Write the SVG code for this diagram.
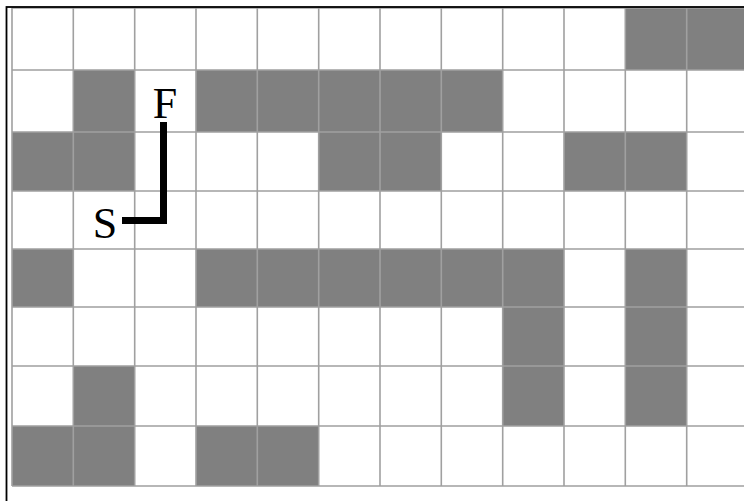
<svg xmlns="http://www.w3.org/2000/svg" width="744" height="501" viewBox="0 0 744 501">
<style>
.c{fill:#808080}
.g{stroke:#a0a0a0;stroke-width:1.6;fill:none}
.lbl{font-family:"Liberation Serif","Times New Roman",serif;font-size:44px;fill:#000;text-anchor:middle}
.path{stroke:#000;stroke-width:7;fill:none;stroke-linejoin:miter;stroke-linecap:butt}
</style>
<rect x="0" y="0" width="744" height="501" fill="#fff"/>
<g id="cells">
<!-- row 0 -->
<rect class="c" x="625.3" y="8" width="61.4" height="62"/>
<rect class="c" x="686.7" y="8" width="61.3" height="62"/>
<!-- row 1 -->
<rect class="c" x="73.3" y="70" width="61.4" height="62"/>
<rect class="c" x="196" y="70" width="306.7" height="62"/>
<!-- row 2 -->
<rect class="c" x="12" y="132" width="122.7" height="59"/>
<rect class="c" x="318.7" y="132" width="122.6" height="59"/>
<rect class="c" x="564" y="132" width="122.7" height="59"/>
<!-- row 4 -->
<rect class="c" x="12" y="249" width="61.3" height="58"/>
<rect class="c" x="196" y="249" width="368" height="58"/>
<rect class="c" x="625.3" y="249" width="61.4" height="58"/>
<!-- row 5 -->
<rect class="c" x="502.7" y="307" width="61.3" height="59"/>
<rect class="c" x="625.3" y="307" width="61.4" height="59"/>
<!-- row 6 -->
<rect class="c" x="73.3" y="366" width="61.4" height="60"/>
<rect class="c" x="502.7" y="366" width="61.3" height="60"/>
<rect class="c" x="625.3" y="366" width="61.4" height="60"/>
<!-- row 7 -->
<rect class="c" x="12" y="426" width="122.7" height="60"/>
<rect class="c" x="196" y="426" width="122.7" height="60"/>
</g>
<g id="gridlines" class="g">
<path d="M12,8 V486 M73.3,8 V486 M134.7,8 V486 M196,8 V486 M257.3,8 V486 M318.7,8 V486 M380,8 V486 M441.3,8 V486 M502.7,8 V486 M564,8 V486 M625.3,8 V486 M686.7,8 V486"/>
<path d="M12,8 H748 M12,70 H748 M12,132 H748 M12,191 H748 M12,249 H748 M12,307 H748 M12,366 H748 M12,426 H748 M12,486 H748"/>
</g>
<rect id="frame" x="6.5" y="7" width="760" height="520" fill="none" stroke="#000" stroke-width="1.8"/>
<g id="connectors">
<path class="path" d="M122,220.5 H163.5 V122"/>
</g>
<g id="node-F"><text class="lbl" x="165" y="118">F</text></g>
<g id="node-S"><text class="lbl" x="105" y="238">S</text></g>
</svg>
